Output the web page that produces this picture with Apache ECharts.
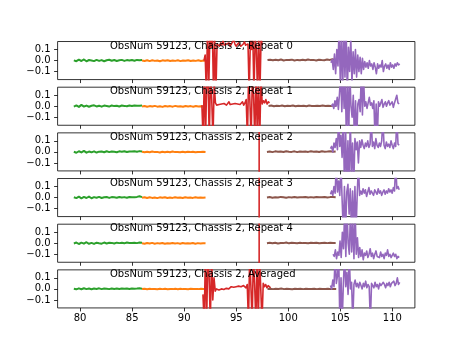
<!DOCTYPE html>
<html>
<head>
<meta charset="utf-8">
<script src="https://cdn.jsdelivr.net/npm/echarts@6/dist/echarts.min.js"></script>
<style>
html,body{margin:0;padding:0;background:#fff;}
#chart{width:461px;height:346px;}
</style>
</head>
<body>
<div id="chart"></div>
<script>
// ---------- data ----------
const panelLabels = ['Repeat 0', 'Repeat 1', 'Repeat 2', 'Repeat 3', 'Repeat 4', 'Averaged'];
const titlePrefix = 'ObsNum 59123, Chassis 2, ';
const xTicks = [80, 85, 90, 95, 100, 105, 110];
const yTicks = [-0.1, 0.0, 0.1];
const xRange = [77.84, 112.16];
const yRange = [-0.1727, 0.1727];

// x extents [start, end] for each series in each panel
const greenX  = [[79.4,85.95],[79.4,85.95],[79.4,85.95],[79.4,85.95],[79.4,85.95],[79.4,85.95]];
const orangeX = [[85.95,92.1],[85.95,92.1],[85.95,92.05],[85.95,92.05],[85.95,92.05],[85.95,92.1]];
const redX    = [[91.9,97.5],[91.7,98.2],[97.2,97.2],[97.2,97.2],[97.2,97.2],[91.8,98.3]];
const brownX  = [[98.0,104.5],[98.1,104.6],[97.95,104.55],[97.95,104.55],[97.95,104.55],[98.0,104.6]];
const purpleX = [[104.1,110.7],[104.15,110.64],[104.05,110.65],[104.05,110.65],[104.3,110.65],[104.05,110.7]];

const green0 = [0.002,-0.006,0.008,-0.004,0.01,-0.007,0.005,0.001,-0.005,0.006,-0.003,0.004,-0.006,0.003,0.007,-0.002,0.005,-0.004,0.002,0.006,-0.003,0.004,0.0,0.005,-0.002,0.006,0.003,0.004];
const green1 = [-0.004,0.007,-0.006,0.012,-0.003,0.006,-0.005,0.004,0.008,-0.002,0.005,-0.004,0.006,0.002,-0.003,0.007,0.001,0.005,-0.002,0.006,0.003,-0.001,0.006,0.002,0.007,0.004,0.005,0.006];
const green2 = [0.001,-0.008,0.006,-0.005,0.009,-0.007,0.003,-0.004,0.005,-0.006,0.002,0.004,-0.003,0.006,-0.002,0.004,0.001,-0.003,0.005,0.002,0.006,-0.001,0.004,0.003,0.006,0.002,0.007,0.004];
const green3 = [0.003,-0.005,0.008,-0.007,0.006,-0.004,0.009,-0.006,0.004,-0.002,0.006,-0.004,0.003,0.005,-0.003,0.004,0.002,-0.002,0.005,0.001,0.004,-0.002,0.005,0.003,0.002,0.006,0.012,0.004];
const green4 = [-0.002,0.006,-0.007,0.005,-0.004,0.009,-0.005,0.003,-0.006,0.005,0.0,-0.004,0.006,-0.002,0.004,0.003,-0.003,0.005,0.001,0.004,-0.001,0.006,0.002,0.003,0.005,0.001,0.006,0.004];
const green5 = [0.001,-0.004,0.005,-0.003,0.006,-0.002,0.004,-0.003,0.003,0.0,0.005,-0.002,0.003,0.001,-0.002,0.004,0.0,0.003,-0.001,0.004,0.002,0.003,-0.001,0.004,0.002,0.003,0.005,0.002];

const orange0 = [0.0,-0.004,0.003,-0.005,0.002,-0.003,0.001,-0.006,0.002,-0.002,0.003,-0.004,0.0,-0.003,0.002,-0.005,0.001,-0.002,0.003,-0.004,0.0,-0.003,0.002,-0.004,0.001,-0.002];
const orange1 = [-0.002,0.002,-0.005,0.001,-0.003,0.003,-0.004,0.0,-0.006,0.002,-0.002,0.001,-0.004,0.003,-0.003,0.0,-0.005,0.002,-0.002,0.001,-0.004,0.002,-0.003,0.0,-0.002,0.001];
const orange2 = [0.001,-0.003,0.002,-0.004,0.003,-0.002,0.0,-0.005,0.002,-0.003,0.001,-0.004,0.003,-0.002,0.0,-0.003,0.002,-0.004,0.001,-0.002,0.002,-0.003,0.0,-0.002,0.001,-0.001];
const orange3 = [-0.001,0.003,-0.004,0.002,-0.003,0.001,-0.005,0.002,-0.002,0.003,-0.004,0.0,-0.003,0.002,-0.002,0.001,-0.004,0.002,-0.001,0.0,-0.003,0.002,-0.002,0.001,-0.002,0.0];
const orange4 = [0.0,-0.005,0.002,-0.003,0.003,-0.004,0.001,-0.002,0.002,-0.005,0.0,-0.003,0.002,-0.002,0.001,-0.004,0.002,-0.003,0.0,-0.002,0.002,-0.004,0.001,-0.002,0.0,-0.001];
const orange5 = [-0.001,0.001,-0.003,0.002,-0.002,0.0,-0.004,0.001,-0.002,0.002,-0.003,0.0,-0.002,0.001,-0.003,0.001,-0.002,0.0,-0.003,0.001,-0.001,0.0,-0.002,0.001,-0.001,0.0];

const red0 = [0.0,0.05,-0.3,0.3,-0.25,0.25,0.12,0.3,-0.3,0.2,-0.3,0.15,
  0.15,0.13,0.16,0.14,0.18,0.14,0.13,0.15,0.14,0.16,0.13,0.15,0.14,0.19,0.15,0.13,0.14,0.16,0.15,0.13,0.14,0.15,0.17,0.14,0.13,0.15,
  -0.3,0.2,0.1,0.25,-0.3,0.2,0.12,-0.3,0.25,-0.3,0.2,0.14];
const red1 = [0.01,-0.3,0.3,-0.3,0.3,0.25,-0.3,0.3,0.06,-0.3,0.2,0.03,
  0.01,0.02,0.015,0.005,0.02,0.01,0.025,0.015,0.01,0.02,0.04,0.015,0.01,0.02,0.015,0.025,0.01,0.02,
  0.03,0.015,0.02,0.04,0.01,0.03,0.06,-0.3,0.3,0.05,-0.3,0.25,0.1,-0.3,0.3,-0.25,0.2,-0.3,0.25,0.02,0.05,0.03,0.06,0.02,0.04,0.03];
const red2 = [0.3,-0.3];
const red3 = [0.3,-0.3];
const red4 = [0.3,-0.3];
const red5 = [-0.05,-0.3,0.3,-0.3,0.3,0.12,-0.3,0.3,-0.1,0.1,-0.02,0.0,
  0.0,-0.01,0.005,0.0,0.01,-0.005,0.01,0.005,0.015,0.0,0.01,0.02,0.01,0.015,0.01,0.02,0.015,0.025,
  0.01,0.02,0.015,0.03,0.02,0.01,0.04,-0.3,0.3,0.02,-0.3,0.3,0.05,-0.3,0.25,-0.3,0.3,0.0,-0.3,0.05,0.02,0.04,0.01,0.03,0.02,0.01];

const brown0 = [0.004,0.008,0.002,0.007,0.003,0.009,0.001,0.006,0.004,0.008,0.0,0.006,0.003,0.007,0.002,0.009,0.004,0.006,0.001,0.008,0.005,0.003,0.009,0.006,0.011,0.008];
const brown1 = [0.002,0.006,-0.001,0.005,0.001,0.007,0.0,0.004,0.002,0.006,-0.001,0.005,0.002,0.004,0.0,0.006,0.003,0.001,0.005,0.002,0.007,0.003,0.005,0.002,0.006,0.004];
const brown2 = [0.0,0.004,-0.002,0.005,0.001,0.003,-0.001,0.006,0.002,0.0,0.005,-0.002,0.004,0.001,0.003,0.0,0.005,0.002,0.004,-0.001,0.006,0.002,0.003,0.005,0.001,0.004];
const brown3 = [0.001,0.005,-0.001,0.003,0.0,0.006,0.002,-0.002,0.004,0.001,0.005,0.0,0.003,0.002,0.006,0.001,0.004,0.0,0.005,0.003,0.002,0.006,0.001,0.004,0.005,0.003];
const brown4 = [-0.001,0.004,0.0,0.005,-0.002,0.003,0.001,0.006,-0.001,0.004,0.002,0.0,0.005,0.001,0.003,-0.001,0.004,0.002,0.005,0.0,0.003,0.004,0.001,0.005,0.002,0.003];
const brown5 = [0.0,0.002,-0.002,0.001,-0.001,0.003,-0.002,0.001,0.0,-0.003,0.002,-0.001,0.001,-0.002,0.002,0.0,-0.001,0.002,-0.002,0.001,0.0,-0.001,0.002,-0.002,0.0,-0.001];

const purple0 = [-0.02,0.01,-0.08,0.06,-0.12,0.1,-0.05,0.3,-0.2,0.25,-0.3,0.3,-0.15,0.3,-0.3,0.12,-0.1,0.2,-0.2,0.08,-0.12,0.1,-0.15,0.05,-0.1,0.03,-0.12,0.02,-0.08,-0.01,
  -0.06,-0.02,-0.07,0.0,-0.05,-0.03,-0.08,-0.02,-0.06,-0.12,-0.03,-0.07,-0.04,-0.06,0.0,-0.1,-0.05,-0.03,-0.07,-0.04,-0.08,-0.02,-0.06,-0.04,-0.07,-0.03,-0.05,-0.02,-0.04,-0.03];
const purple1 = [0.0,0.02,-0.02,0.05,0.0,0.08,-0.03,0.12,0.3,-0.05,0.3,-0.02,0.25,-0.3,0.3,-0.3,0.3,0.0,-0.1,0.1,-0.3,0.05,-0.3,0.02,0.06,-0.05,0.3,-0.08,0.25,0.0,
  0.04,-0.02,0.03,0.08,0.01,0.03,-0.02,0.05,-0.3,0.02,-0.3,0.04,0.0,0.03,0.06,-0.01,0.02,0.04,0.0,0.03,0.05,0.01,0.02,0.04,-0.01,0.03,0.02,0.1,0.03,0.02];
const purple2 = [0.03,0.05,0.0,0.08,0.04,0.12,0.02,0.3,0.05,0.15,-0.05,0.3,-0.3,0.2,-0.3,0.1,-0.3,0.3,-0.2,0.08,-0.3,0.12,0.02,0.09,-0.1,0.1,0.04,0.11,0.06,0.03,
  0.08,0.05,0.1,0.04,0.07,0.3,0.05,0.09,0.03,0.12,0.06,0.04,0.08,0.05,0.1,0.3,0.06,0.03,0.09,0.05,0.07,0.04,0.1,0.06,0.03,0.08,0.05,0.3,0.07,0.06];
const purple3 = [0.03,0.06,0.02,0.1,0.04,0.3,0.05,0.15,0.02,0.3,-0.02,-0.3,0.1,-0.3,0.05,0.12,-0.15,0.08,-0.3,0.06,-0.3,0.1,-0.3,0.04,0.3,0.02,0.06,0.03,0.08,0.04,
  0.07,0.01,0.05,0.09,0.03,0.06,0.04,0.02,0.07,0.05,0.03,0.08,0.04,0.06,0.02,0.05,0.07,0.03,0.06,0.04,0.08,0.05,0.07,0.04,0.09,0.06,0.3,0.08,0.1,0.07];
const purple4 = [-0.1,-0.12,-0.06,-0.14,-0.08,-0.11,0.02,-0.13,0.1,-0.05,0.3,-0.12,0.3,0.0,-0.1,0.3,-0.08,0.2,-0.14,0.3,-0.1,0.05,-0.13,-0.04,-0.12,-0.06,-0.15,-0.09,-0.11,-0.07,
  -0.13,-0.1,-0.05,-0.12,-0.09,-0.14,-0.1,-0.07,-0.12,-0.11,-0.13,-0.08,-0.12,-0.1,-0.14,-0.09,-0.11,-0.06,-0.12,-0.1,-0.13,-0.11,-0.09,-0.12,-0.1,-0.14,-0.12,-0.13];
const purple5 = [0.03,0.0,0.08,0.02,0.3,0.05,0.12,0.3,-0.3,0.1,-0.3,0.05,0.3,0.02,0.15,-0.05,0.3,0.0,0.06,-0.3,0.04,0.08,0.02,0.05,0.01,0.06,0.03,0.0,0.05,0.02,
  0.07,0.01,0.04,0.02,-0.3,0.05,0.03,0.01,0.06,0.02,0.04,0.0,0.05,0.03,0.02,0.06,0.04,0.01,0.05,0.03,0.06,0.02,0.05,0.04,0.07,0.03,0.05,0.1,0.04,0.06];

const greens  = [green0, green1, green2, green3, green4, green5];
const oranges = [orange0, orange1, orange2, orange3, orange4, orange5];
const reds    = [red0, red1, red2, red3, red4, red5];
const browns  = [brown0, brown1, brown2, brown3, brown4, brown5];
const purples = [purple0, purple1, purple2, purple3, purple4, purple5];

// ---------- chart ----------
const colors = {green:'#2ca02c', orange:'#ff7f0e', red:'#d62728', brown:'#8c564b', purple:'#9467bd'};
const FONT = 'DejaVu Sans';
const gLeft = 57.6, gRight = 46.1, gTop0 = 41.52, gStep = 45.67, gH = 38.06;

function pairs(ext, ys) {
  const n = ys.length;
  return ys.map((y, k) => [n > 1 ? ext[0] + k * (ext[1] - ext[0]) / (n - 1) : ext[0], y]);
}
function yFmt(v) {
  const s = Math.abs(v).toFixed(1);
  return v < -1e-9 ? '\u2212' + s : s;
}

const grids = [], xAxes = [], yAxes = [], series = [], titles = [];
for (let i = 0; i < 6; i++) {
  const top = gTop0 + i * gStep;
  grids.push({left: gLeft, right: gRight, top: top, height: gH, show: true,
    borderColor: '#000', borderWidth: 0.8, backgroundColor: 'transparent', containLabel: false});
  xAxes.push({gridIndex: i, type: 'value', min: xRange[0], max: xRange[1], position: 'bottom',
    axisLine: {show: false, onZero: false}, splitLine: {show: false},
    axisTick: {show: true, customValues: xTicks, length: 3.5, lineStyle: {color: '#000', width: 0.8}},
    axisLabel: {show: i === 5, customValues: xTicks, fontSize: 10, color: '#000', fontFamily: FONT, margin: 5}});
  yAxes.push({gridIndex: i, type: 'value', min: yRange[0], max: yRange[1], position: 'left',
    axisLine: {show: false, onZero: false}, splitLine: {show: false},
    axisTick: {show: true, customValues: yTicks, length: 3.5, lineStyle: {color: '#000', width: 0.8}},
    axisLabel: {show: true, customValues: yTicks, fontSize: 10, color: '#000', fontFamily: FONT, margin: 7, formatter: yFmt}});
  titles.push({text: titlePrefix + panelLabels[i], left: 110, top: top - 0.5, padding: 0,
    textStyle: {fontSize: 10, fontWeight: 'normal', fontFamily: FONT, color: '#000'}});
  const parts = [
    [greens[i], greenX[i], colors.green, 2],
    [oranges[i], orangeX[i], colors.orange, 2],
    [reds[i], redX[i], colors.red, 1.6],
    [browns[i], brownX[i], colors.brown, 2],
    [purples[i], purpleX[i], colors.purple, 1.6]
  ];
  parts.forEach(([ys, ext, c, w]) => {
    series.push({type: 'line', xAxisIndex: i, yAxisIndex: i, data: pairs(ext, ys),
      symbol: 'none', showSymbol: false, clip: true, silent: true,
      lineStyle: {color: c, width: w, join: 'round'}, itemStyle: {color: c}});
  });
}

const chart = echarts.init(document.getElementById('chart'), null, {renderer: 'canvas'});
chart.setOption({
  animation: false,
  backgroundColor: '#fff',
  title: titles,
  grid: grids,
  xAxis: xAxes,
  yAxis: yAxes,
  series: series
});
</script>
</body>
</html>
